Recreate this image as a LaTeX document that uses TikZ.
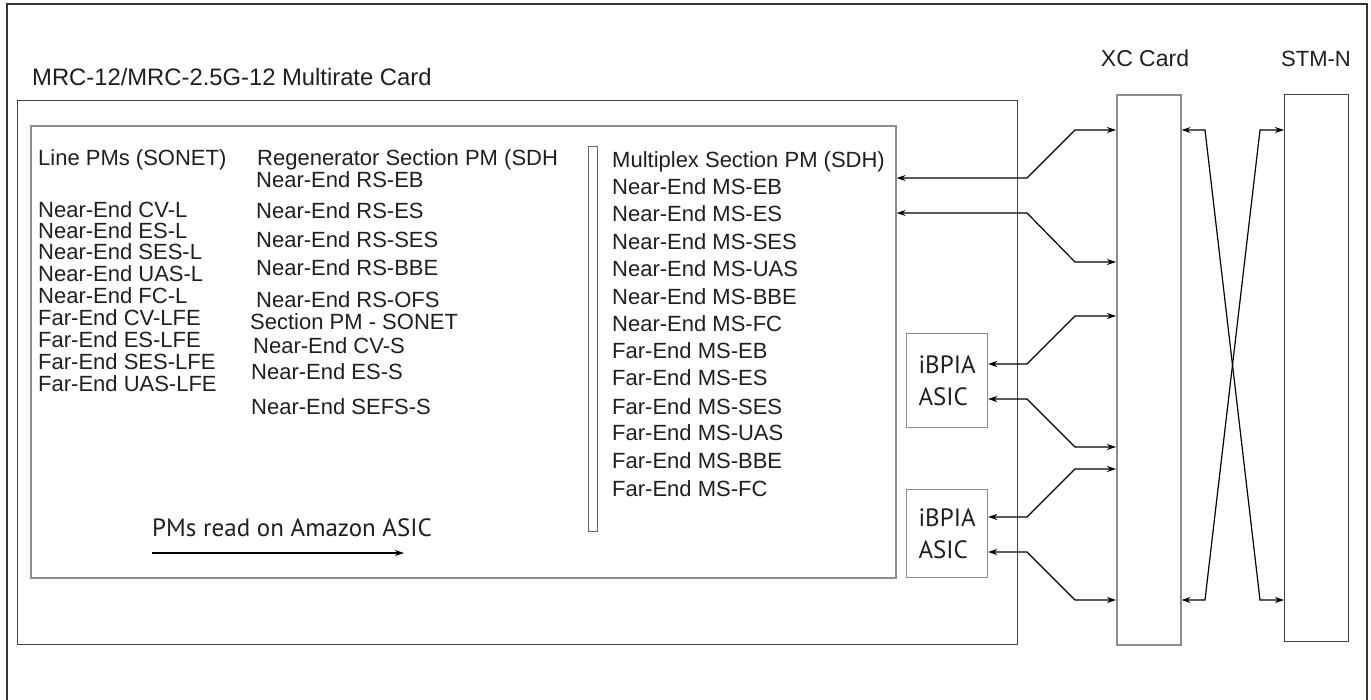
\documentclass[tikz,border=0pt]{standalone}
\usepackage{fontspec}
\setmainfont{Liberation Sans}
\newfontfamily\asicfont{PT Sans}
\usetikzlibrary{arrows.meta}
\tikzset{
  pmtext/.style={anchor=base west, inner sep=0pt, text=black!88, font=\fontsize{22}{26}\selectfont},
  asictext/.style={inner sep=0pt, align=left, text=black!88, font=\asicfont\fontsize{25}{32}\selectfont},
  cardbox/.style={draw=black!75, line width=1pt, inner sep=0pt, anchor=north west},
  greybox/.style={draw=black!45, line width=1.6pt, inner sep=0pt, anchor=north west},
  link/.style={line width=1.2pt, {Stealth[length=9pt,width=6pt]}-{Stealth[length=9pt,width=6pt]}},
}
\begin{document}
\begin{tikzpicture}[x=1pt, y=-1pt]
    \useasboundingbox (0,0) rectangle (1371,700);
    % 外枠
    \draw[black!80, line width=1.2pt] (7,700) -- (7,4) -- (1367,4) -- (1367,700);
    % カード
    \node[cardbox, minimum width=1000pt, minimum height=544pt] (card) at (17,100) {};
    \node[pmtext, font=\fontsize{23.8}{28}\selectfont] (cardlbl) at (32,86) {MRC-12/MRC-2.5G-12 Multirate Card};
    \node[greybox, minimum width=865pt, minimum height=452pt] (pmbox) at (30,125) {};
    \node[cardbox, draw=black!60, minimum width=9pt, minimum height=385pt] (bar) at (588,146) {};
    \node[greybox, line width=1.2pt, minimum width=81pt, minimum height=94pt] (asica) at (906,333) {};
    \node[greybox, line width=1.2pt, minimum width=81pt, minimum height=88pt] (asicb) at (906,489) {};
    \node[asictext] (asicalbl) at (asica.center) {iBPIA\\ASIC};
    \node[asictext] (asicblbl) at (asicb.center) {iBPIA\\ASIC};
    % XC / STM-N
    \node[greybox, minimum width=64pt, minimum height=550pt] (xc) at (1116,94) {};
    \node[cardbox, minimum width=64pt, minimum height=547pt] (stm) at (1284,94) {};
    \node[pmtext, anchor=base, font=\fontsize{23}{28}\selectfont] (xclbl) at (1145,67) {XC Card};
    \node[pmtext, anchor=base] (stmlbl) at (1316,67) {STM-N};
    % PM一覧
    \foreach \t/\y [count=\i] in {Line PMs (SONET)/166, Near-End CV-L/218, Near-End ES-L/239,
        Near-End SES-L/260, Near-End UAS-L/282, Near-End FC-L/304, Far-End CV-LFE/326,
        Far-End ES-LFE/348, Far-End SES-LFE/370, Far-End UAS-LFE/392}
      \node[pmtext] (la\i) at (38,\y) {\t};
    \foreach \t/\x/\y [count=\i] in {Regenerator Section PM (SDH/257/166, Near-End RS-EB/256/188,
        Near-End RS-ES/256/219, Near-End RS-SES/256/248, Near-End RS-BBE/256/276,
        Near-End RS-OFS/256/308, Section PM - SONET/250/330, Near-End CV-S/253/354,
        Near-End ES-S/251/380, Near-End SEFS-S/251/414}
      \node[pmtext] (lb\i) at (\x,\y) {\t};
    \foreach \t/\y [count=\i] in {Multiplex Section PM (SDH)/168, Near-End MS-EB/195,
        Near-End MS-ES/222, Near-End MS-SES/250, Near-End MS-UAS/277, Near-End MS-BBE/305,
        Near-End MS-FC/332, Far-End MS-EB/359, Far-End MS-ES/386, Far-End MS-SES/414,
        Far-End MS-UAS/441, Far-End MS-BBE/468, Far-End MS-FC/496}
      \node[pmtext] (lc\i) at (612,\y) {\t};
    \node[asictext, anchor=base west] (amz) at (152,536) {PMs read on Amazon ASIC};
    \coordinate (amzs) at (152,553);
    \coordinate (amze) at (404,553);
    \draw[line width=1.2pt, -{Stealth[length=9pt,width=6pt]}] (amzs) -- (amze);
    % 接続
    \foreach \src/\ya/\yb in {pmbox/178/130, pmbox/213/262, asica/364/316,
        asica/399/447, asicb/517/469, asicb/552/600}
      \draw[link] (\src.east |- 0,\ya) -- (1027,\ya) -- (1075,\yb) -- (xc.west |- 0,\yb);
    \draw[link] (xc.east |- 0,130) -- (1205,130) -- (1260,600) -- (stm.west |- 0,600);
    \draw[link] (stm.west |- 0,130) -- (1260,130) -- (1205,600) -- (xc.east |- 0,600);
  \end{tikzpicture}
\end{document}
